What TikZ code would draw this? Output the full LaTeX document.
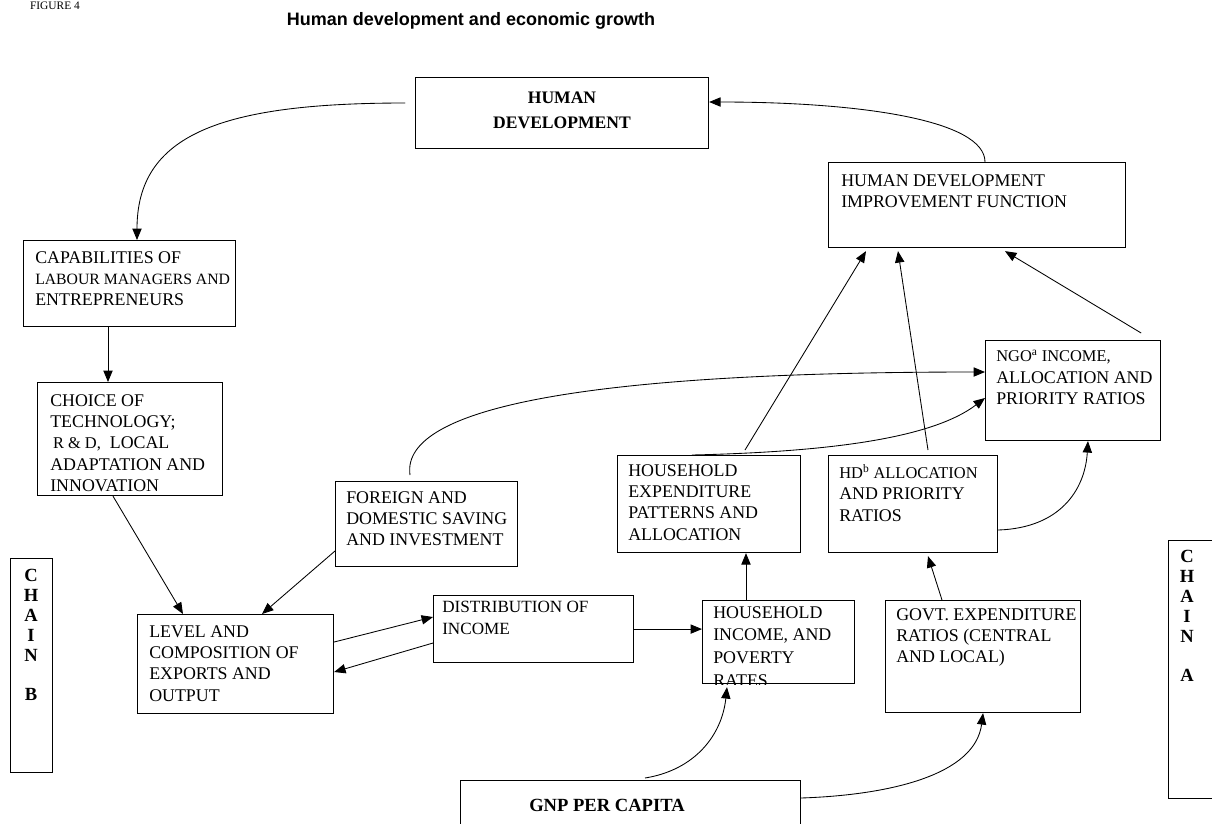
\documentclass[tikz,border=0pt]{standalone}
\usepackage{fontspec}
\setmainfont{Liberation Serif}
\newfontfamily\titlefont{Liberation Sans}
\usetikzlibrary{arrows.meta,calc}

\begin{document}
\begin{tikzpicture}[x=0.7pt,y=-0.7pt,
	box/.style 2 args={draw, line width=0.8pt, anchor=north west, inner sep=0pt, minimum width=#1*0.7pt, minimum height=#2*0.7pt},
	txt/.style={anchor=north west, align=left, inner sep=0pt, font=\fontsize{12.5}{15}\selectfont},
	chain/.style={anchor=north, align=center, inner sep=0pt, font=\fontsize{13}{14}\selectfont\bfseries},
	arr/.style={-{Triangle[length=8pt,width=6.5pt]}, line width=0.6pt}]
	\useasboundingbox (0,0) rectangle (1212,823);
	% Title
	\node[font=\titlefont\bfseries\fontsize{12.6}{14}\selectfont] (title) at (471,21) {Human development and economic growth};
	\node[font=\fontsize{8}{9}\selectfont] (fig) at (55,6) {FIGURE 4};
	
	% Boxes
	\node[box={293}{71}] (hd) at (415,77) {};
	\node[box={297}{85}] (hdi) at (828,162) {};
	\node[box={212}{86}] (capab) at (23,240) {};
	\node[box={185}{113}] (choice) at (37,382) {};
	\node[box={182}{85}] (foreign) at (335,481) {};
	\node[box={196}{99}] (level) at (137,614) {};
	\node[box={200}{67}] (dist) at (433,595) {};
	\node[box={183}{97}] (hhexp) at (617,455) {};
	\node[box={169}{97}] (hdb) at (828,455) {};
	\node[box={175}{100}] (ngo) at (985,340) {};
	\node[box={152}{83}] (hhinc) at (702,600) {};
	\node[box={195}{112}] (govt) at (885,600) {};
	\node[box={340}{90}] (gnp) at (460,780) {};
	\node[box={42}{214}] (chainb) at (10,558) {};
	\node[box={60}{258}] (chaina) at (1168,540) {};
	
	% Box texts
	\node[font=\fontsize{12.3}{17.5}\selectfont\bfseries, align=center] (hdt) at (562,110) {HUMAN\\DEVELOPMENT};
	\node[txt] (hdit) at (841,174) {HUMAN DEVELOPMENT\\IMPROVEMENT FUNCTION};
	\node[txt] (capabt) at (35,251) {CAPABILITIES OF\\{\fontsize{11}{15}\selectfont LABOUR MANAGERS AND}\\ENTREPRENEURS};
	\node[txt] (choicet) at (50,394) {CHOICE OF\\TECHNOLOGY;\\{\fontsize{11.5}{15}\selectfont\,R \& D,}\ \ LOCAL\\ADAPTATION AND\\INNOVATION};
	\node[txt] (foreignt) at (346,491) {FOREIGN AND\\DOMESTIC SAVING\\AND INVESTMENT};
	\node[txt] (levelt) at (149,625) {LEVEL AND\\COMPOSITION OF\\EXPORTS AND\\OUTPUT};
	\node[txt, font=\fontsize{12}{15}\selectfont] (distt) at (442,601) {DISTRIBUTION OF\\INCOME};
	\node[txt] (hhexpt) at (628,464) {HOUSEHOLD\\EXPENDITURE\\PATTERNS AND\\ALLOCATION};
	\node[txt] (hdbt) at (839,464) {{\fontsize{11.5}{15}\selectfont HD\textsuperscript{b} ALLOCATION}\\AND PRIORITY\\RATIOS};
	\node[txt] (ngot) at (996,350) {{\fontsize{11.5}{15}\selectfont NGO\textsuperscript{a} INCOME,}\\ALLOCATION AND\\PRIORITY RATIOS};
	\begin{scope}
		\clip (hhinc.north west) rectangle (hhinc.south east);
		\node[txt, font=\fontsize{12.5}{16}\selectfont] (hhinct) at (713,606) {HOUSEHOLD\\INCOME, AND\\POVERTY\\RATES};
	\end{scope}
	\node[txt] (govtt) at (896,608) {GOVT. EXPENDITURE\\RATIOS (CENTRAL\\AND LOCAL)};
	\node[font=\fontsize{13}{15}\selectfont\bfseries] (gnpt) at (607,805) {GNP PER CAPITA};
	\node[chain] (chainbt) at (31,569) {C\\H\\A\\I\\N\\[13pt]B};
	\node[chain] (chainat) at (1187,550) {C\\H\\A\\I\\N\\[13pt]A};
	
	% Chain B side
	\draw[arr, line cap=round] ($(hd.north west)+(-10,26)$) .. controls (220,103) and (137,135) .. ($(capab.north west)+(114,0)$);
	\draw[arr] ($(capab.south west)+(85,0)$) -- ($(choice.north west)+(71,0)$);
	\draw[arr] ($(choice.south west)+(76,0)$) -- ($(level.north west)+(46,0)$);
	\draw[arr] ($(foreign.north west)+(0,70)$) -- ($(level.north west)+(125,0)$);
	\draw[arr] ($(level.north east)+(0,28)$) -- ($(dist.north west)+(0,22)$);
	\draw[arr] ($(dist.north west)+(0,48)$) -- ($(level.north east)+(0,58)$);
	\draw[arr] (dist.east) -- (dist.east -| hhinc.west);
	
	% Chain A side
	\draw[arr] ($(hhinc.north west)+(44,0)$) -- ($(hhexp.south west)+(129,0)$);
	\draw[arr] ($(govt.north west)+(57,0)$) -- ($(hdb.south west)+(100,3)$);
	\draw[arr] ($(gnp.north west)+(185,-2)$) .. controls (695,770) and (722,735) .. ($(hhinc.south west)+(25,3)$);
	\draw[arr] ($(gnp.north east)+(0,18)$) .. controls (890,795) and (975,775) .. (govt.south);
	\draw[arr] ($(hdb.north east)+(0,75)$) .. controls (1060,528) and (1085,490) .. ($(ngo.south west)+(103,0)$);
	\draw[arr] ($(foreign.north west)+(75,-6)$) .. controls (400,405) and (600,372) .. ($(ngo.north west)+(0,32)$);
	\draw[arr] ($(hhexp.north west)+(75,0)$) .. controls (820,452) and (930,440) .. ($(ngo.north west)+(0,58)$);
	
	% Into the improvement function
	\draw[arr] ($(hhexp.north west)+(128,-5)$) -- ($(hdi.south west)+(38,3)$);
	\draw[arr] ($(hdb.north west)+(100,-5)$) -- ($(hdi.south west)+(70,3)$);
	\draw[arr] ($(ngo.north east)+(-20,-7)$) -- ($(hdi.south west)+(177,3)$);
	\draw[arr] ($(hdi.north west)+(157,0)$) .. controls (985,120) and (860,102) .. ($(hd.north east)+(0,25)$);
	
\end{tikzpicture}
\end{document}
